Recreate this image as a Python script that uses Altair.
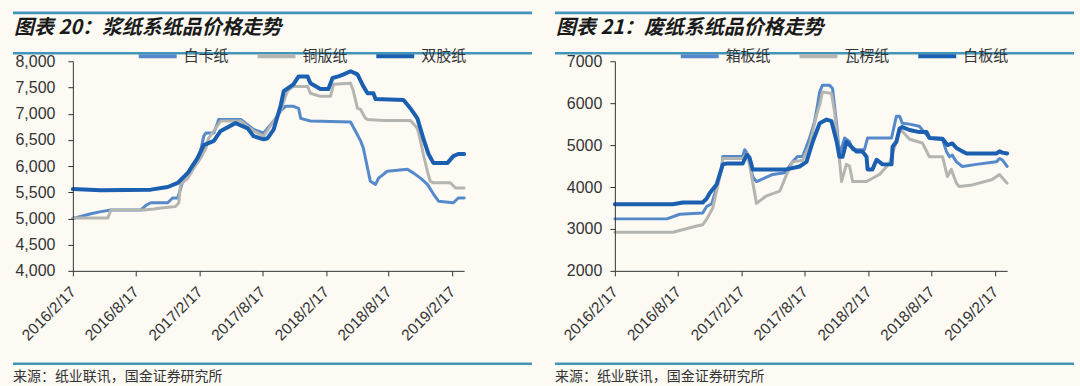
import altair as alt
import pandas as pd

BG = "#fcfaf3"
RULE_COLOR = "#4294b8"
FONT_CJK = "Noto Sans CJK SC"
FONT_NUM = "Liberation Sans"
TXT = "#333333"

tick_dates = ["2016-02-17", "2016-08-17", "2017-02-17", "2017-08-17",
              "2018-02-17", "2018-08-17", "2019-02-17"]
x_start = "2016-02-17"
x_end = "2019-03-23"

left_title = "图表 20：浆纸系纸品价格走势"
right_title = "图表 21：废纸系纸品价格走势"
source_text = "来源：纸业联讯，国金证券研究所"

# ---------------- left panel: 浆纸系 ----------------
left_series = ["白卡纸", "铜版纸", "双胶纸"]
left_colors = ["#5689c9", "#b4b4b1", "#1b5fb0"]
left_widths = [3, 3, 4]
left_yticks = [4000, 4500, 5000, 5500, 6000, 6500, 7000, 7500, 8000]

baika = [("2016-02-17", 5000), ("2016-04-09", 5090), ("2016-05-08", 5130), ("2016-06-06", 5160),
         ("2016-08-31", 5160), ("2016-09-15", 5250), ("2016-09-29", 5300), ("2016-11-17", 5300),
         ("2016-12-01", 5390), ("2016-12-16", 5390), ("2017-01-02", 5770), ("2017-01-31", 6000),
         ("2017-02-20", 6290), ("2017-03-01", 6570), ("2017-03-07", 6630), ("2017-03-30", 6630),
         ("2017-04-10", 6820), ("2017-04-13", 6890), ("2017-06-16", 6890), ("2017-07-23", 6700),
         ("2017-08-21", 6630), ("2017-09-19", 6860), ("2017-10-09", 7050), ("2017-10-23", 7140),
         ("2017-11-15", 7140), ("2017-11-30", 7100), ("2017-12-06", 6910), ("2018-01-03", 6860),
         ("2018-04-29", 6840), ("2018-05-13", 6670), ("2018-05-28", 6480), ("2018-06-05", 6340),
         ("2018-06-17", 5960), ("2018-06-25", 5710), ("2018-07-10", 5650), ("2018-07-19", 5770),
         ("2018-08-13", 5900), ("2018-10-10", 5940), ("2018-10-27", 5870), ("2018-11-17", 5770),
         ("2018-12-07", 5650), ("2018-12-24", 5470), ("2019-01-08", 5330), ("2019-02-20", 5300),
         ("2019-03-06", 5390), ("2019-03-23", 5390)]

tongban = [("2016-02-17", 5010), ("2016-05-28", 5010), ("2016-06-06", 5160), ("2016-09-09", 5160),
           ("2016-10-08", 5180), ("2016-10-28", 5200), ("2016-12-10", 5230), ("2016-12-19", 5300),
           ("2016-12-24", 5650), ("2017-01-14", 5770), ("2017-01-31", 5960), ("2017-02-20", 6150),
           ("2017-03-07", 6340), ("2017-03-15", 6530), ("2017-03-30", 6670), ("2017-04-19", 6860),
           ("2017-06-16", 6860), ("2017-07-23", 6670), ("2017-08-21", 6570), ("2017-09-19", 6860),
           ("2017-10-09", 7050), ("2017-10-23", 7330), ("2017-10-29", 7430), ("2017-11-15", 7520),
           ("2017-12-26", 7520), ("2018-01-03", 7390), ("2018-02-01", 7330), ("2018-03-02", 7330),
           ("2018-03-11", 7560), ("2018-04-29", 7580), ("2018-05-07", 7430), ("2018-05-19", 7100),
           ("2018-05-28", 7080), ("2018-06-11", 6910), ("2018-06-17", 6890), ("2018-08-02", 6870),
           ("2018-10-19", 6870), ("2018-11-08", 6720), ("2018-11-17", 6480), ("2018-11-25", 6230),
           ("2018-12-07", 5900), ("2018-12-15", 5710), ("2018-12-24", 5680), ("2019-02-11", 5680),
           ("2019-02-26", 5580), ("2019-03-23", 5580)]

shuangjiao = [("2016-02-17", 5560), ("2016-05-08", 5540), ("2016-09-29", 5550), ("2016-11-17", 5600),
              ("2016-12-16", 5680), ("2017-01-14", 5870), ("2017-02-11", 6150), ("2017-03-01", 6400),
              ("2017-03-30", 6480), ("2017-04-19", 6670), ("2017-05-26", 6800), ("2017-06-01", 6820),
              ("2017-07-06", 6720), ("2017-07-23", 6570), ("2017-08-21", 6510), ("2017-09-01", 6530),
              ("2017-09-19", 6700), ("2017-10-09", 7150), ("2017-10-18", 7430), ("2017-11-15", 7560),
              ("2017-11-30", 7710), ("2017-12-26", 7710), ("2018-01-03", 7580), ("2018-02-01", 7470),
              ("2018-02-24", 7470), ("2018-03-08", 7680), ("2018-03-25", 7710), ("2018-04-09", 7750),
              ("2018-04-29", 7810), ("2018-05-19", 7750), ("2018-06-05", 7520), ("2018-06-17", 7390),
              ("2018-07-04", 7390), ("2018-07-10", 7280), ("2018-09-29", 7260), ("2018-10-19", 7100),
              ("2018-11-08", 6910), ("2018-11-25", 6530), ("2018-12-10", 6230), ("2018-12-24", 6060),
              ("2019-02-03", 6060), ("2019-02-20", 6190), ("2019-03-06", 6230), ("2019-03-23", 6230)]

# ---------------- right panel: 废纸系 ----------------
right_series = ["箱板纸", "瓦楞纸", "白板纸"]
right_colors = ["#5689c9", "#b4b4b1", "#1b5fb0"]
right_widths = [3, 3, 4]
right_yticks = [2000, 3000, 4000, 5000, 6000, 7000]

xiangban = [("2016-02-17", 3240), ("2016-07-16", 3240), ("2016-08-22", 3350), ("2016-10-27", 3380),
            ("2016-11-08", 3540), ("2016-11-22", 3600), ("2016-12-06", 3980), ("2016-12-21", 4460),
            ("2016-12-24", 4730), ("2017-02-19", 4730), ("2017-02-25", 4890), ("2017-03-06", 4780),
            ("2017-03-20", 4250), ("2017-03-31", 4130), ("2017-05-17", 4300), ("2017-06-20", 4340),
            ("2017-07-13", 4600), ("2017-07-27", 4730), ("2017-08-11", 4730), ("2017-08-31", 5170),
            ("2017-09-14", 5550), ("2017-09-23", 5960), ("2017-09-29", 6270), ("2017-10-07", 6430),
            ("2017-10-27", 6430), ("2017-11-05", 6350), ("2017-11-17", 5480), ("2017-11-25", 4770),
            ("2017-12-10", 5170), ("2017-12-24", 5080), ("2018-01-02", 4890), ("2018-02-05", 4890),
            ("2018-02-14", 5170), ("2018-04-24", 5170), ("2018-05-08", 5690), ("2018-05-17", 5690),
            ("2018-05-25", 5520), ("2018-06-15", 5500), ("2018-07-13", 5450), ("2018-07-22", 5360),
            ("2018-08-11", 5170), ("2018-09-18", 5130), ("2018-09-29", 4850), ("2018-10-08", 4720),
            ("2018-10-16", 4760), ("2018-10-28", 4600), ("2018-11-14", 4490), ("2018-12-24", 4540),
            ("2019-02-20", 4600), ("2019-03-01", 4680), ("2019-03-09", 4650), ("2019-03-23", 4490)]

waleng = [("2016-02-17", 2920), ("2016-08-02", 2920), ("2016-10-10", 3070), ("2016-10-27", 3100),
          ("2016-11-08", 3240), ("2016-11-25", 3500), ("2016-12-21", 4460), ("2016-12-24", 4680),
          ("2017-02-19", 4680), ("2017-03-03", 4800), ("2017-03-11", 4540), ("2017-03-31", 3610),
          ("2017-04-29", 3790), ("2017-06-06", 3900), ("2017-06-26", 4300), ("2017-07-13", 4600),
          ("2017-08-11", 4640), ("2017-08-31", 5000), ("2017-09-20", 5720), ("2017-09-29", 5960),
          ("2017-10-07", 6270), ("2017-11-02", 6230), ("2017-11-11", 5790), ("2017-11-20", 5080),
          ("2017-12-01", 4130), ("2017-12-15", 4540), ("2017-12-24", 4500), ("2018-01-02", 4130),
          ("2018-02-11", 4130), ("2018-03-20", 4300), ("2018-04-18", 4560), ("2018-05-17", 5330),
          ("2018-05-25", 5330), ("2018-06-15", 5140), ("2018-07-22", 5050), ("2018-08-11", 4720),
          ("2018-09-18", 4720), ("2018-10-02", 4250), ("2018-10-13", 4420), ("2018-10-28", 4090),
          ("2018-11-05", 4010), ("2018-12-13", 4050), ("2019-02-08", 4180), ("2019-03-01", 4300),
          ("2019-03-23", 4090)]

baiban = [("2016-02-17", 3590), ("2016-08-02", 3590), ("2016-08-31", 3630), ("2016-10-27", 3630),
          ("2016-11-08", 3730), ("2016-11-16", 3850), ("2016-12-06", 4060), ("2016-12-24", 4540),
          ("2017-01-04", 4560), ("2017-02-19", 4560), ("2017-03-03", 4770), ("2017-03-11", 4700),
          ("2017-03-20", 4420), ("2017-06-26", 4420), ("2017-08-02", 4490), ("2017-08-22", 4600),
          ("2017-09-09", 5080), ("2017-09-29", 5520), ("2017-10-19", 5610), ("2017-11-02", 5570),
          ("2017-11-17", 5080), ("2017-11-25", 4720), ("2017-12-04", 4720), ("2017-12-15", 5080),
          ("2018-01-02", 4930), ("2018-01-13", 4850), ("2018-01-30", 4850), ("2018-02-11", 4720),
          ("2018-02-14", 4420), ("2018-02-28", 4420), ("2018-03-12", 4650), ("2018-03-20", 4600),
          ("2018-03-29", 4540), ("2018-04-24", 4540), ("2018-04-27", 4960), ("2018-05-08", 5080),
          ("2018-05-17", 5390), ("2018-05-25", 5430), ("2018-06-15", 5360), ("2018-07-13", 5310),
          ("2018-08-03", 5310), ("2018-08-11", 5170), ("2018-09-18", 5150), ("2018-10-02", 5000),
          ("2018-10-16", 5040), ("2018-10-28", 4930), ("2018-11-14", 4850), ("2018-11-26", 4800),
          ("2019-02-20", 4800), ("2019-03-01", 4850), ("2019-03-09", 4820), ("2019-03-23", 4800)]


def to_df(name, pairs):
    return pd.DataFrame({"date": [p[0] for p in pairs],
                         "value": [p[1] for p in pairs],
                         "series": name})


def dt(s):
    y, m, d = (int(v) for v in s.split("-"))
    return alt.DateTime(year=y, month=m, date=d, utc=True)


PH = 210


def panel(series, colors, widths, datasets, ydomain, yticks, yfmt, ypad, title,
          pw, bg_x0, bg_x1):
    xscale = alt.Scale(type="utc", domain=[dt(x_start), dt(x_end)])
    xaxis = alt.Axis(values=[dt(s) for s in tick_dates], format="%Y/%-m/%-d",
                     labelAngle=-45, labelAlign="right", labelBaseline="middle",
                     labelFont=FONT_NUM, labelFontSize=15.5, labelColor=TXT,
                     labelPadding=13, labelOverlap=False, tickSize=5,
                     tickColor="#333333", domainColor="#333333", grid=False,
                     title=None, zindex=1)
    yscale = alt.Scale(domain=ydomain, nice=False, zero=False)
    yaxis = alt.Axis(values=yticks, format=yfmt, labelFont=FONT_NUM, labelFontSize=16,
                     labelColor=TXT, labelPadding=ypad, tickSize=5, tickColor="#333333",
                     domainColor="#333333", grid=False, title=None, zindex=1)
    one = pd.DataFrame({"t": [title]})
    src = pd.DataFrame({"t": [source_text]})

    layers = [
        alt.Chart(one).mark_rect(color=BG).encode(
            x=alt.value(bg_x0), x2=alt.value(bg_x1), y=alt.value(-60), y2=alt.value(326)),
        alt.Chart(one).mark_rule(color=RULE_COLOR, strokeWidth=2.6).encode(
            x=alt.value(-60), x2=alt.value(460), y=alt.value(-48.5)),
        alt.Chart(one).mark_rule(color=RULE_COLOR, strokeWidth=2.6).encode(
            x=alt.value(-60), x2=alt.value(460), y=alt.value(-8)),
        alt.Chart(one).mark_rule(color=RULE_COLOR, strokeWidth=2.6).encode(
            x=alt.value(-60), x2=alt.value(460), y=alt.value(303)),
        alt.Chart(one).mark_text(font=FONT_CJK, fontSize=20, fontWeight="bold",
                                 fontStyle="italic", align="left", baseline="middle",
                                 color="#1a1a1a").encode(
            x=alt.value(-59), y=alt.value(-33), text="t:N"),
        alt.Chart(src).mark_text(font=FONT_CJK, fontSize=14, align="left",
                                 baseline="middle", color=TXT).encode(
            x=alt.value(-60), y=alt.value(316), text="t:N"),
    ]
    legend = alt.Legend(orient="none", legendX=64, legendY=-26, direction="horizontal",
                        symbolType="stroke", symbolSize=1444, symbolStrokeWidth=4,
                        labelFont=FONT_CJK, labelFontSize=15, labelColor=TXT,
                        columnPadding=20, labelOffset=5, title=None, padding=0)
    for i, (name, pairs) in enumerate(zip(series, datasets)):
        layers.append(
            alt.Chart(to_df(name, pairs)).mark_line(
                strokeWidth=widths[i], strokeJoin="round", strokeCap="round").encode(
                x=alt.X("date:T", scale=xscale, axis=xaxis),
                y=alt.Y("value:Q", scale=yscale, axis=yaxis),
                color=alt.Color("series:N", scale=alt.Scale(domain=series, range=colors),
                                legend=legend),
            )
        )
    return alt.layer(*layers).properties(width=pw, height=PH)


left = panel(left_series, left_colors, left_widths, [baika, tongban, shuangjiao],
             [4000, 8000], left_yticks, ",.0f", 13, left_title, 392, -72, 468)
right = panel(right_series, right_colors, right_widths, [xiangban, waleng, baiban],
              [2000, 7000], right_yticks, "d", 8, right_title, 393, -75, 465)

chart = alt.hconcat(left, right, spacing=151, bounds="flush").resolve_scale(
    x="independent", y="independent", color="independent"
).resolve_legend(color="independent").properties(
    autosize=alt.AutoSizeParams(type="pad"), padding=0
).configure(background=BG).configure_view(stroke="transparent")

chart.save("out.html", embed_options={"renderer": "svg", "actions": False})
